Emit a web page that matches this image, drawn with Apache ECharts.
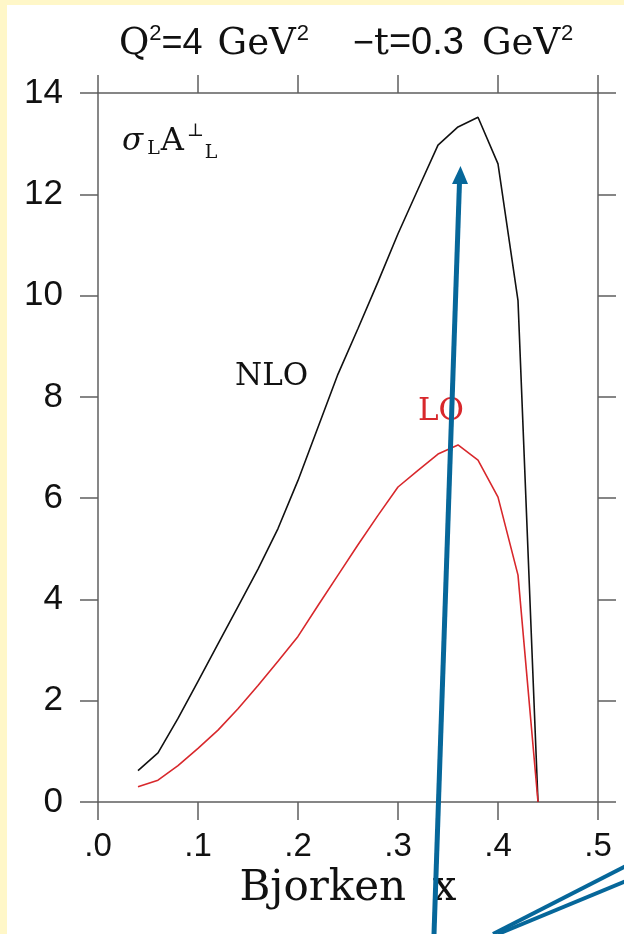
<!DOCTYPE html>
<html>
<head>
<meta charset="utf-8">
<title>sigma_L A_L perp vs Bjorken x</title>
<script src="https://cdn.jsdelivr.net/npm/echarts@6/dist/echarts.min.js"></script>
<style>
  html, body { margin: 0; padding: 0; background: #ffffff; }
  #chart { width: 624px; height: 934px; }
</style>
</head>
<body>
<div id="chart"></div>
<script>
// Bjorken x grid shared by both curves
const xValues = [0.04, 0.06, 0.08, 0.10, 0.12, 0.14, 0.16, 0.18, 0.20, 0.22, 0.24,
                 0.26, 0.28, 0.30, 0.32, 0.34, 0.36, 0.38, 0.40, 0.42, 0.44];
// next-to-leading order
const nloValues = [0.62, 0.97, 1.65, 2.38, 3.12, 3.86, 4.6, 5.4, 6.35, 7.4, 8.45,
                   9.35, 10.27, 11.22, 12.1, 12.97, 13.33, 13.52, 12.6, 9.9, 0];
// leading order
const loValues = [0.30, 0.43, 0.72, 1.06, 1.42, 1.84, 2.3, 2.78, 3.27, 3.88, 4.48,
                  5.08, 5.66, 6.22, 6.55, 6.87, 7.05, 6.75, 6.02, 4.48, 0];
// axis ticks
const xTicks = [0, 0.1, 0.2, 0.3, 0.4, 0.5];
const xTickLabels = ['.0', '.1', '.2', '.3', '.4', '.5'];
const yTicks = [0, 2, 4, 6, 8, 10, 12, 14];

const SANS = 'Liberation Sans';
const SERIF = 'DejaVu Serif';
const AXIS_COLOR = '#5f5f5f';
const BLUE = '#06679a';
const INK = '#111111';

const pairs = (ys) => xValues.map((x, i) => [x, ys[i]]);

const axisLine = { show: true, onZero: false, lineStyle: { color: AXIS_COLOR, width: 1.5 } };
const axisTick = { show: true, inside: false, length: 18, lineStyle: { color: AXIS_COLOR, width: 1.5 } };

// title pieces: serif letters, sans numerals, raised exponents
const tStyle = (family, size, pad) => ({
  fontFamily: family, fontSize: size, fontWeight: 'normal', color: INK,
  lineHeight: 44, padding: pad
});

const chart = echarts.init(document.getElementById('chart'), null, { renderer: 'canvas' });

chart.setOption({
  backgroundColor: '#ffffff',
  animation: false,
  title: {
    left: 114,
    top: 17,
    text: '{q|Q}{e1|2}{n1|=4}{g1|GeV}{e2|2}{m|\u2212}{t|t}{n2|=0.3}{g2|GeV}{e3|2}',
    textStyle: {
      fontWeight: 'normal',
      rich: {
        q: tStyle(SERIF, 37, [0, 0, 0, 0]),
        e1: tStyle(SANS, 22, [0, 0, 20, 0]),
        n1: tStyle(SANS, 36, [0, 0, 0, 0]),
        g1: tStyle(SERIF, 37, [0, 0, 0, 15]),
        e2: tStyle(SANS, 22, [0, 0, 20, 1]),
        m: tStyle(SANS, 36, [0, 0, 0, 44]),
        t: tStyle(SERIF, 37, [0, 0, 0, 0]),
        n2: tStyle(SANS, 38, [0, 0, 0, 0]),
        g2: tStyle(SERIF, 37, [0, 0, 0, 18]),
        e3: tStyle(SANS, 22, [0, 0, 20, 1])
      }
    }
  },
  grid: { left: 98, right: 26, top: 93, bottom: 132, containLabel: false },
  xAxis: [
    {
      type: 'value', position: 'bottom', min: 0, max: 0.5, interval: 0.1,
      axisLine, axisTick, splitLine: { show: false },
      axisLabel: {
        margin: 28, color: INK, fontFamily: SANS, fontSize: 33,
        formatter: (v) => {
          const i = xTicks.findIndex((t) => Math.abs(t - v) < 1e-9);
          return i >= 0 ? xTickLabels[i] : '';
        }
      },
      name: 'Bjorken  x', nameLocation: 'middle', nameGap: 64,
      nameTextStyle: { fontFamily: SERIF, fontSize: 42, color: INK }
    },
    {
      type: 'value', position: 'top', min: 0, max: 0.5, interval: 0.1,
      axisLine, axisTick, axisLabel: { show: false }, splitLine: { show: false }
    }
  ],
  yAxis: [
    {
      type: 'value', position: 'left', min: 0, max: 14, interval: 2,
      axisLine, axisTick, splitLine: { show: false },
      axisLabel: {
        margin: 35, color: INK, fontFamily: SANS, fontSize: 35,
        formatter: (v) => (yTicks.includes(v) ? String(v) : '')
      }
    },
    {
      type: 'value', position: 'right', min: 0, max: 14, interval: 2,
      axisLine, axisTick, axisLabel: { show: false }, splitLine: { show: false }
    }
  ],
  series: [
    {
      name: 'NLO', type: 'line', xAxisIndex: 0, yAxisIndex: 0,
      data: pairs(nloValues), showSymbol: false, symbol: 'none',
      lineStyle: { color: INK, width: 1.6 }, z: 3
    },
    {
      name: 'LO', type: 'line', xAxisIndex: 0, yAxisIndex: 0,
      data: pairs(loValues), showSymbol: false, symbol: 'none',
      lineStyle: { color: '#d8282c', width: 1.6 }, z: 3
    }
  ],
  graphic: [
    // pale frame strips along the top and left edges
    { type: 'rect', shape: { x: 0, y: 0, width: 624, height: 5 }, style: { fill: '#fff7c8' }, z: 0 },
    { type: 'rect', shape: { x: 0, y: 0, width: 7, height: 934 }, style: { fill: '#fff7c8' }, z: 0 },
    // curve labels
    {
      type: 'text', left: 122, top: 120, z: 10,
      style: {
        text: '{g|\u03c3}{sub|L}{a|A}{sup|\u22a5}{sub2|L}',
        rich: {
          g: { fontFamily: SERIF, fontStyle: 'italic', fontSize: 31, fill: INK, lineHeight: 44 },
          a: { fontFamily: SERIF, fontSize: 32, fill: INK, lineHeight: 44 },
          sub: { fontFamily: SERIF, fontSize: 19, fill: INK, lineHeight: 44, padding: [16, 1, 0, 4] },
          sub2: { fontFamily: SERIF, fontSize: 19, fill: INK, lineHeight: 44, padding: [24, 0, 0, 1] },
          sup: { fontFamily: SERIF, fontSize: 18, fill: INK, lineHeight: 44, padding: [0, 0, 20, 3] }
        }
      }
    },
    {
      type: 'text', left: 235, top: 361, z: 10,
      style: { text: 'NLO', fontFamily: SERIF, fontSize: 31, fill: INK }
    },
    {
      type: 'text', left: 418, top: 396, z: 10,
      style: { text: 'LO', fontFamily: SERIF, fontSize: 31, fill: '#d8282c' }
    },
    // overlaid pointer arrow
    {
      type: 'line', z: 20,
      shape: { x1: 434, y1: 934, x2: 459.5, y2: 182 },
      style: { stroke: BLUE, lineWidth: 5 }
    },
    {
      type: 'polygon', z: 20,
      shape: { points: [[460.5, 166], [452, 184], [468, 184]] },
      style: { fill: BLUE }
    },
    // pointer shafts entering from the lower right
    {
      type: 'line', z: 20,
      shape: { x1: 493, y1: 934, x2: 626, y2: 866 },
      style: { stroke: BLUE, lineWidth: 4 }
    },
    {
      type: 'line', z: 20,
      shape: { x1: 498, y1: 934, x2: 626, y2: 881 },
      style: { stroke: BLUE, lineWidth: 4 }
    }
  ]
});
</script>
</body>
</html>
